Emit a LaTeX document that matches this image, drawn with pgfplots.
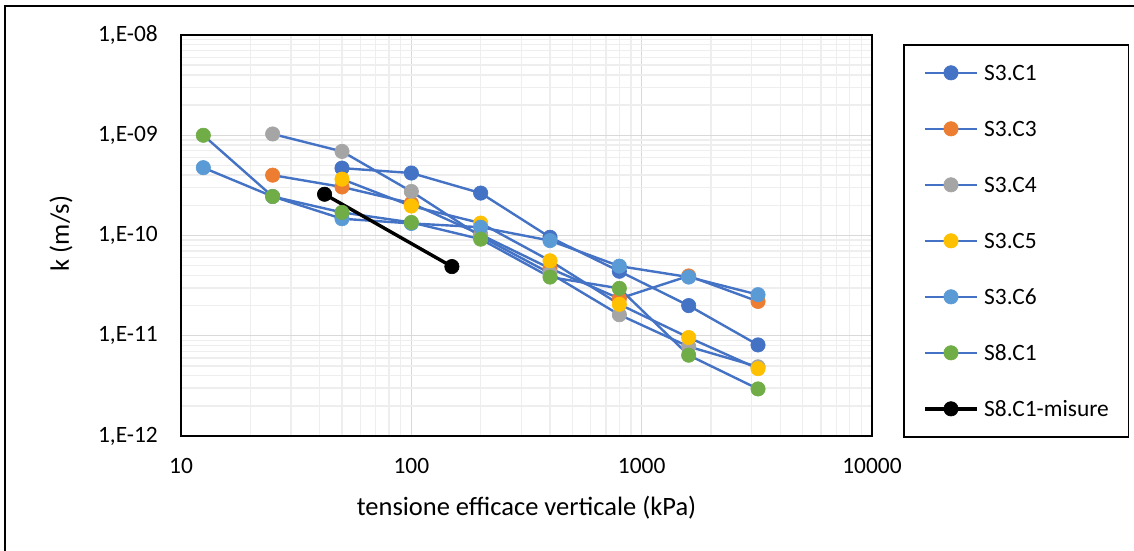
\documentclass[border=0pt]{standalone}
\usepackage{fontspec}
\setmainfont{Carlito}
\usepackage{pgfplots}
\pgfplotsset{compat=1.18}
\usepackage{pgfplotstable}

\definecolor{lineblue}{HTML}{4472C4}
\definecolor{cA}{HTML}{4472C4}
\definecolor{cB}{HTML}{ED7D31}
\definecolor{cC}{HTML}{A5A5A5}
\definecolor{cD}{HTML}{FFC000}
\definecolor{cE}{HTML}{5B9BD5}
\definecolor{cF}{HTML}{70AD47}
\definecolor{majgrid}{HTML}{D9D9D9}
\definecolor{mingrid}{HTML}{EEEEEE}

% permeability k (m/s) against vertical effective stress (kPa)
\pgfplotstableread{
s k
50 4.7e-10
100 4.2e-10
200 2.65e-10
400 9.6e-11
800 4.4e-11
1600 2.0e-11
3200 8.1e-12
}\tabCa

\pgfplotstableread{
s k
25 4.0e-10
50 3.05e-10
100 2.1e-10
200 1.02e-10
400 4.7e-11
800 2.35e-11
1600 3.95e-11
3200 2.2e-11
}\tabCb

\pgfplotstableread{
s k
25 1.03e-9
50 6.9e-10
100 2.75e-10
200 9.8e-11
400 4.2e-11
800 1.62e-11
1600 7.8e-12
3200 4.9e-12
}\tabCc

\pgfplotstableread{
s k
50 3.65e-10
100 1.97e-10
200 1.33e-10
400 5.6e-11
800 2.06e-11
1600 9.6e-12
3200 4.7e-12
}\tabCd

\pgfplotstableread{
s k
12.5 4.75e-10
25 2.45e-10
50 1.47e-10
100 1.32e-10
200 1.21e-10
400 8.9e-11
800 4.95e-11
1600 3.85e-11
3200 2.57e-11
}\tabCe

\pgfplotstableread{
s k
12.5 1.0e-9
25 2.45e-10
50 1.7e-10
100 1.35e-10
200 9.2e-11
400 3.85e-11
800 2.97e-11
1600 6.4e-12
3200 2.95e-12
}\tabCf

\pgfplotstableread{
s k
42 2.58e-10
150 4.9e-11
}\tabMis

\pgfplotsset{
  kseries/.style={color=lineblue, line width=2.4bp, mark=*, mark size=7.2bp,
    mark options={line width=0.6bp, draw=#1, fill=#1}},
}

\begin{document}
\begin{tikzpicture}
\useasboundingbox (0,0) rectangle (1134bp,551bp);
\begin{axis}[
  at={(181bp,115bp)}, anchor=south west,
  scale only axis, width=691bp, height=401bp,
  xmode=log, ymode=log,
  xmin=10, xmax=10000, ymin=1e-12, ymax=1e-8,
  xtick={10,100,1000,10000}, xticklabels={10,100,1000,10000},
  ytick={1e-12,1e-11,1e-10,1e-9,1e-8},
  yticklabels={{1,E-12},{1,E-11},{1,E-10},{1,E-09},{1,E-08}},
  minor xtick={20,30,40,50,60,70,80,90,200,300,400,500,600,700,800,900,2000,3000,4000,5000,6000,7000,8000,9000},
  minor ytick={2e-12,3e-12,4e-12,5e-12,6e-12,7e-12,8e-12,9e-12,
               2e-11,3e-11,4e-11,5e-11,6e-11,7e-11,8e-11,9e-11,
               2e-10,3e-10,4e-10,5e-10,6e-10,7e-10,8e-10,9e-10,
               2e-9,3e-9,4e-9,5e-9,6e-9,7e-9,8e-9,9e-9},
  grid=both,
  major grid style={majgrid, line width=1.4bp},
  minor grid style={mingrid, line width=1.4bp},
  major tick length=0pt, minor tick length=0pt,
  axis line style={black, line width=1.6bp},
  tick label style={font=\fontsize{23.5}{28}\selectfont, inner sep=0pt},
  yticklabel style={anchor=east, xshift=-23bp},
  xticklabel style={anchor=north, yshift=-22bp},
  xlabel={tensione efficace verticale (kPa)},
  ylabel={k (m/s)},
  label style={font=\fontsize{26.6}{31}\selectfont},
  xlabel style={at={(axis description cs:0.5,-0.1796)}, anchor=center},
  ylabel style={at={(axis description cs:-0.1737,0.505)}, anchor=center},
  legend cell align=left,
  legend image code/.code={\draw[mark repeat=2,mark phase=2] plot coordinates {(0bp,0bp) (26bp,0bp) (52bp,0bp)};},
  legend style={at={(axis description cs:1.04486,0.97756)}, anchor=north west,
    draw=black, line width=1.6bp, fill=white,
    inner xsep=19.5bp, inner ysep=0pt, row sep=0pt, column sep=5.5bp,
    font=\fontsize{23.5}{28}\selectfont,
    nodes={inner sep=0pt, text height=35.55bp, text depth=20.45bp}},
]
\addplot[kseries=cA] table[x=s, y=k] {\tabCa};
\addlegendentry{S3.C1}
\addplot[kseries=cB] table[x=s, y=k] {\tabCb};
\addlegendentry{S3.C3}
\addplot[kseries=cC] table[x=s, y=k] {\tabCc};
\addlegendentry{S3.C4}
\addplot[kseries=cD] table[x=s, y=k] {\tabCd};
\addlegendentry{S3.C5}
\addplot[kseries=cE] table[x=s, y=k] {\tabCe};
\addlegendentry{S3.C6}
\addplot[kseries=cF] table[x=s, y=k] {\tabCf};
\addlegendentry{S8.C1}
\addplot[color=black, line width=3.4bp, mark=*, mark size=7.2bp,
  mark options={line width=0.6bp, draw=black, fill=black}] table[x=s, y=k] {\tabMis};
\addlegendentry{S8.C1-misure}
\end{axis}
% chart area frame
\draw[line width=1.3bp, black] (5bp,-20bp) -- (5bp,545bp) -- (1160bp,545bp);
\end{tikzpicture}
\end{document}
